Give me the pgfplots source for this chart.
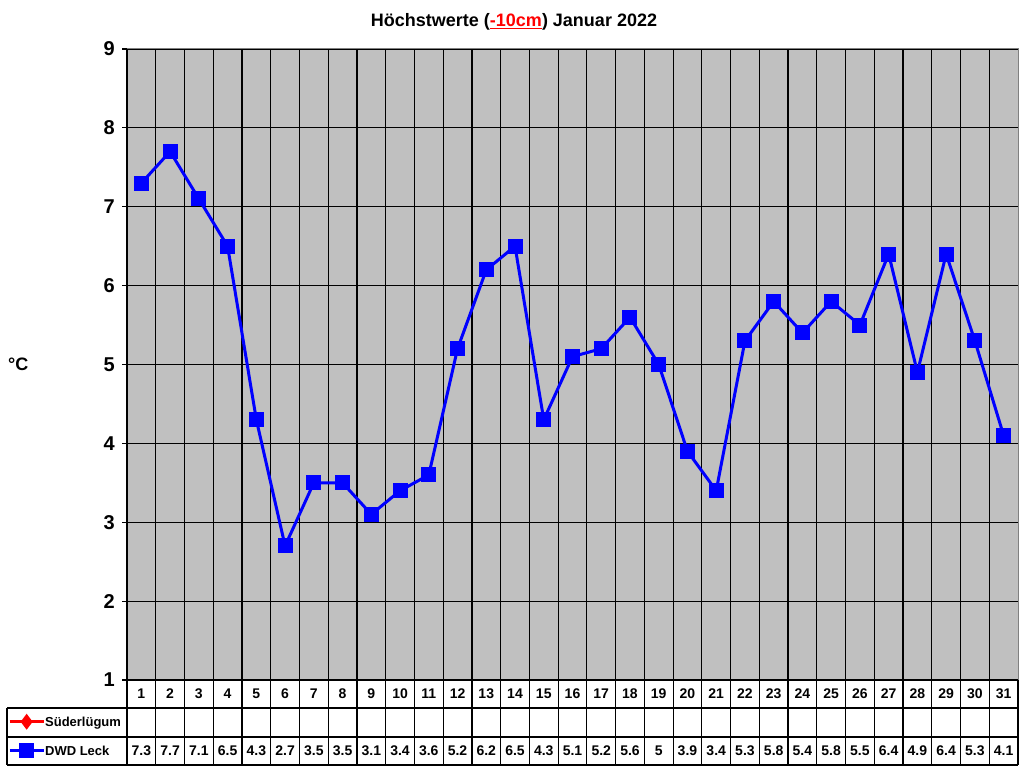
\documentclass[border=0pt]{standalone}
\usepackage{fontspec}
\setmainfont{Liberation Sans}
\usepackage{pgfplots}
\usepackage{pgfplotstable}
\pgfplotsset{compat=1.18}

\definecolor{plotgray}{HTML}{C0C0C0}
\definecolor{dwdblue}{HTML}{0000FF}
\definecolor{suered}{HTML}{FF0000}

% DWD Leck, Hoechstwerte in -10cm, Januar 2022
\pgfplotstableread{
day val
1 7.3
2 7.7
3 7.1
4 6.5
5 4.3
6 2.7
7 3.5
8 3.5
9 3.1
10 3.4
11 3.6
12 5.2
13 6.2
14 6.5
15 4.3
16 5.1
17 5.2
18 5.6
19 5
20 3.9
21 3.4
22 5.3
23 5.8
24 5.4
25 5.8
26 5.5
27 6.4
28 4.9
29 6.4
30 5.3
31 4.1
}\leckdata

\newcommand{\tabfont}{\fontsize{14}{16}\selectfont\bfseries}
\newcommand{\legfont}{\fontsize{13}{15}\selectfont\bfseries}

\begin{document}
\begin{tikzpicture}[x=1pt,y=1pt]
\useasboundingbox (0,0) rectangle (1024,768);
\begin{axis}[
  at={(127pt,88pt)}, anchor=south west,
  width=891pt, height=631pt, scale only axis,
  xmin=0.5, xmax=31.5, ymin=1, ymax=9,
  clip=false,
  axis background/.style={fill=plotgray},
  axis line style={draw=gray, line width=1pt},
  xtick={1.5,2.5,...,30.5},
  xticklabels={},
  xmajorgrids,
  xtick style={draw=none},
  ytick={1,...,9},
  ymajorgrids,
  ytick pos=left,
  tick align=outside,
  major tick length=5pt,
  ytick style={black, line width=1.2pt},
  grid style={black, line width=1.2pt},
  yticklabel style={font=\fontsize{20}{22}\selectfont\bfseries, anchor=east, inner sep=0pt, xshift=-7pt},
  /pgf/number format/assume math mode=true,
  every node near coord/.append style={font=\tabfont, anchor=center, black, inner sep=0pt},
  legend style={at={(axis description cs:-0.1336,-0.0444)}, anchor=north west,
    draw=none, fill=none, inner sep=0pt, row sep=0pt, column sep=0pt,
    nodes={inner sep=0pt, text height=10pt, text depth=3pt, minimum height=29pt, font=\legfont}},
  legend cell align=left,
  legend image code/.code={\draw[line width=3pt, mark repeat=2, mark phase=2] plot coordinates {(0pt,1pt)(17pt,1pt)(34pt,1pt)};},
]
\addlegendimage{suered, mark=diamond*, mark size=5.5pt, mark options={solid}}
\addlegendentry{Süderlügum}
\addplot[dwdblue, line width=3pt, mark=square*, mark size=6pt, mark options={solid}] table[x=day, y=val]{\leckdata};
\addlegendentry{DWD Leck}
% table rows below the plot: day numbers and values
\addplot[draw=none, mark=none, forget plot, nodes near coords, point meta=explicit symbolic]
  table[x=day, y expr=0.8225, meta=day]{\leckdata};
\addplot[draw=none, mark=none, forget plot, nodes near coords, point meta=explicit symbolic]
  table[x=day, y expr=0.0998, meta=val]{\leckdata};
\end{axis}

% data table frame
\begin{scope}[black, line width=1.2pt]
  \draw (127,719) -- (127,3);
  \draw (127,88) -- (1018,88);
  \draw (7,60) -- (1018,60);
  \draw (7,31) -- (1018,31);
  \draw (7,3) -- (1018,3);
  \draw (7,60) -- (7,3);
  \foreach \i in {1,...,31} \draw ({127+\i*28.7419},88) -- ({127+\i*28.7419},3);
\end{scope}

\node[anchor=base, font=\fontsize{18}{20}\selectfont\bfseries] at (514,741)
  {Höchstwerte (\textcolor{suered}{\underline{-10cm}}) Januar 2022};
\node[anchor=base west, inner sep=0pt, font=\fontsize{18}{20}\selectfont\bfseries] at (8,397) {°C};
\end{tikzpicture}
\end{document}
